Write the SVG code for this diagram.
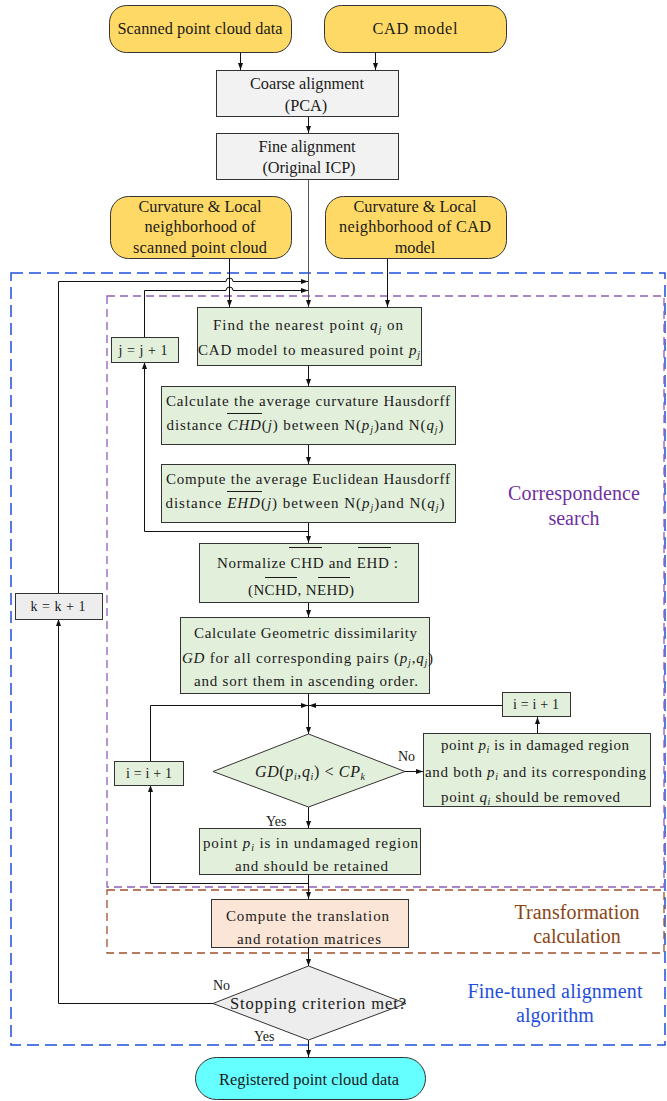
<svg xmlns="http://www.w3.org/2000/svg" width="667" height="1101" viewBox="0 0 667 1101">
<style>
text{font-family:"Liberation Serif","Times New Roman",serif;fill:#1a1a1a;}
.t{font-size:15px;text-anchor:middle;}
.h{font-size:16.3px;text-anchor:middle;}
.s{font-size:14px;text-anchor:middle;}
.lab{font-size:14px;}
.big{font-size:20px;text-anchor:middle;}
.yel{fill:#ffd966;stroke:#333;stroke-width:1;}
.gry{fill:#f2f2f2;stroke:#333;stroke-width:1;}
.grn{fill:#e2efda;stroke:#333;stroke-width:1;}
.pch{fill:#fbe5d6;stroke:#333;stroke-width:1;}
.cyn{fill:#66ffff;stroke:#333;stroke-width:1;}
.dg{fill:#ededed;stroke:#333;stroke-width:1;}
.c{fill:none;stroke:#111;stroke-width:1;}
.ol{stroke:#1a1a1a;stroke-width:1;}
.i{font-style:italic;}
.sub{font-size:10px;font-style:italic;}
</style>
<defs>
<marker id="ar" markerUnits="userSpaceOnUse" markerWidth="8" markerHeight="6" refX="7" refY="3" orient="auto">
<path d="M0,0.5 L7,3 L0,5.5 z" fill="#111"/>
</marker>
</defs>

<!-- dashed region frames -->
<g id="frames">
<rect x="11" y="273" width="654" height="772" fill="none" stroke="#1f4fdc" stroke-width="1.5" stroke-dasharray="12 6"/>
<rect x="107" y="296" width="557" height="591" fill="none" stroke="#8e5fb8" stroke-width="1.3" stroke-dasharray="8 5"/>
<rect x="107" y="890" width="557" height="63" fill="none" stroke="#a0522d" stroke-width="1.3" stroke-dasharray="8 5"/>
<text class="big" x="574" y="500" textLength="132" style="fill:#7030a0">Correspondence</text>
<text class="big" x="574" y="525" style="fill:#7030a0">search</text>
<text class="big" x="577" y="919" textLength="125" style="fill:#8b4513">Transformation</text>
<text class="big" x="577" y="943" style="fill:#8b4513">calculation</text>
<text class="big" x="555" y="998" textLength="175" style="fill:#1f4fdc">Fine-tuned alignment</text>
<text class="big" x="555" y="1022" style="fill:#1f4fdc">algorithm</text>
</g>

<!-- connectors -->
<g id="connectors">
<path class="c" d="M240.5,52 V70" marker-end="url(#ar)"/>
<path class="c" d="M375.5,52 V70" marker-end="url(#ar)"/>
<path class="c" d="M308.5,117 V133" marker-end="url(#ar)"/>
<path class="c" d="M308.5,179 V307" marker-end="url(#ar)" style="stroke:#555"/>
<path class="c" d="M229.5,258 V307" marker-end="url(#ar)"/>
<path class="c" d="M387.5,258 V307" marker-end="url(#ar)"/>
<!-- k loop -->
<path class="c" d="M213,1003.5 H58.5 V619" marker-end="url(#ar)"/>
<path class="c" d="M58.5,593 V281.5 H226 A3.5,3.5 0 0 1 233,281.5 H308" marker-end="url(#ar)"/>
<!-- j loop -->
<path class="c" d="M308.5,531.5 H144.5 V362" marker-end="url(#ar)"/>
<path class="c" d="M144.5,337 V290.5 H226 A3.5,3.5 0 0 1 233,290.5 H308" marker-end="url(#ar)"/>
<path class="c" d="M308.5,365 V386" marker-end="url(#ar)"/>
<path class="c" d="M308.5,444 V464" marker-end="url(#ar)"/>
<path class="c" d="M308.5,522 V543" marker-end="url(#ar)"/>
<path class="c" d="M308.5,602 V617" marker-end="url(#ar)"/>
<path class="c" d="M308.5,693 V734" marker-end="url(#ar)"/>
<!-- i loops -->
<path class="c" d="M150.5,761 V705.5 H308" marker-end="url(#ar)"/>
<path class="c" d="M502,705.5 H309" marker-end="url(#ar)"/>
<path class="c" d="M537.5,733 V717" marker-end="url(#ar)"/>
<path class="c" d="M405,771.5 H423" marker-end="url(#ar)"/>
<path class="c" d="M308.5,807 V828" marker-end="url(#ar)"/>
<path class="c" d="M308.5,874 V899" marker-end="url(#ar)"/>
<path class="c" d="M308.5,883.5 H150.5 V785" marker-end="url(#ar)"/>
<path class="c" d="M308.5,947 V966" marker-end="url(#ar)"/>
<path class="c" d="M308.5,1040 V1057" marker-end="url(#ar)"/>
<text class="lab" x="398" y="761">No</text>
<text class="lab" x="266" y="826">Yes</text>
<text class="lab" x="213" y="990">No</text>
<text class="lab" x="254" y="1041">Yes</text>
</g>

<g id="scanned">
<rect class="yel" x="109.5" y="5.5" width="182" height="47" rx="17"/>
<text class="h" x="200" y="34" textLength="165">Scanned point cloud data</text>
</g>
<g id="cad">
<rect class="yel" x="324.5" y="5.5" width="182" height="47" rx="17"/>
<text class="h" x="415" y="34" textLength="85">CAD  model</text>
</g>
<g id="coarse">
<rect class="gry" x="216.5" y="70.5" width="182" height="46"/>
<text class="h" x="307" y="89" textLength="114">Coarse alignment</text>
<text class="h" x="306" y="111">(PCA)</text>
</g>
<g id="fine">
<rect class="gry" x="216.5" y="133.5" width="182" height="46"/>
<text class="h" x="307" y="152" textLength="97">Fine alignment</text>
<text class="h" x="309" y="173" textLength="93">(Original ICP)</text>
</g>
<g id="curv-scan">
<rect class="yel" x="110.5" y="196.5" width="181" height="62" rx="18"/>
<text class="h" x="200" y="212" textLength="123">Curvature &amp; Local</text>
<text class="h" x="200" y="232" textLength="111">neighborhood of</text>
<text class="h" x="200" y="253" textLength="134">scanned point cloud</text>
</g>
<g id="curv-cad">
<rect class="yel" x="325.5" y="196.5" width="181" height="62" rx="18"/>
<text class="h" x="415" y="212" textLength="123">Curvature &amp; Local</text>
<text class="h" x="415" y="232" textLength="152">neighborhood of CAD</text>
<text class="h" x="415" y="253">model</text>
</g>
<g id="jbox">
<rect class="grn" x="111.5" y="337.5" width="67" height="25"/>
<text class="s" x="143" y="355" textLength="49">j = j + 1</text>
</g>
<g id="find">
<rect class="grn" x="197.5" y="307.5" width="224" height="58"/>
<text class="t" x="308" y="330" textLength="190">Find the nearest point <tspan class="i">q</tspan><tspan class="sub" dy="3">j</tspan><tspan dy="-3"> on</tspan></text>
<text class="t" x="309" y="355" textLength="222">CAD model to measured point <tspan class="i">p</tspan><tspan class="sub" dy="3">j</tspan></text>
</g>
<g id="chd">
<rect class="grn" x="161.5" y="386.5" width="294" height="58"/>
<text class="t" x="308" y="406" textLength="284">Calculate the average curvature Hausdorff</text>
<text class="t" x="305" y="430" textLength="277">distance <tspan class="i">CHD</tspan>(<tspan class="i">j</tspan>) between N(<tspan class="i">p</tspan><tspan class="sub" dy="3">j</tspan><tspan dy="-3">)and N(</tspan><tspan class="i">q</tspan><tspan class="sub" dy="3">j</tspan><tspan dy="-3">)</tspan></text>
<line class="ol" x1="227" y1="413.5" x2="262" y2="413.5"/>
</g>
<g id="ehd">
<rect class="grn" x="161.5" y="464.5" width="294" height="58"/>
<text class="t" x="308" y="484" textLength="284">Compute the average Euclidean Hausdorff</text>
<text class="t" x="305" y="508" textLength="279">distance <tspan class="i">EHD</tspan>(<tspan class="i">j</tspan>) between N(<tspan class="i">p</tspan><tspan class="sub" dy="3">j</tspan><tspan dy="-3">)and N(</tspan><tspan class="i">q</tspan><tspan class="sub" dy="3">j</tspan><tspan dy="-3">)</tspan></text>
<line class="ol" x1="227" y1="491.5" x2="262" y2="491.5"/>
</g>
<g id="kbox">
<rect class="dg" x="15.5" y="593.5" width="87" height="26"/>
<text class="s" x="58" y="611" textLength="55">k = k + 1</text>
</g>
<g id="normalize">
<rect class="grn" x="199.5" y="543.5" width="219" height="59"/>
<text class="t" x="307.5" y="568" textLength="181">Normalize CHD and EHD :</text>
<text class="t" x="301" y="595" textLength="106">(NCHD, NEHD)</text>
<line class="ol" x1="289" y1="547.5" x2="322" y2="547.5"/>
<line class="ol" x1="358" y1="547.5" x2="391" y2="547.5"/>
<line class="ol" x1="265" y1="577.5" x2="297" y2="577.5"/>
<line class="ol" x1="318" y1="577.5" x2="350" y2="577.5"/>
</g>
<g id="gd">
<rect class="grn" x="180.5" y="617.5" width="249" height="76"/>
<text class="t" x="305.5" y="638" textLength="223">Calculate Geometric dissimilarity</text>
<text class="t" x="307.5" y="663" textLength="251"><tspan class="i">GD</tspan> for all corresponding pairs (<tspan class="i">p</tspan><tspan class="sub" dy="3">j</tspan><tspan dy="-3">,</tspan><tspan class="i">q</tspan><tspan class="sub" dy="3">j</tspan><tspan dy="-3">)</tspan></text>
<text class="t" x="306" y="686" textLength="224">and sort them in ascending order.</text>
</g>
<g id="ibox-right">
<rect class="grn" x="502.5" y="692.5" width="68" height="24"/>
<text class="s" x="536" y="709" textLength="46">i = i + 1</text>
</g>
<g id="ibox-left">
<rect class="grn" x="114.5" y="761.5" width="69" height="24"/>
<text class="s" x="149" y="778" textLength="46">i = i + 1</text>
</g>
<g id="decision">
<polygon class="grn" points="308.5,734 405,771.5 308.5,807 213,771.5"/>
<text x="310" y="777" textLength="110" style="font-size:16px;text-anchor:middle"><tspan class="i">GD</tspan>(<tspan class="i">p</tspan><tspan class="sub" dy="3">i</tspan><tspan dy="-3">,</tspan><tspan class="i">q</tspan><tspan class="sub" dy="3">i</tspan><tspan dy="-3">) &lt; </tspan><tspan class="i">CP</tspan><tspan class="sub" dy="3">k</tspan></text>
</g>
<g id="damaged">
<rect class="grn" x="423.5" y="733.5" width="227" height="73"/>
<text class="t" x="535" y="750" textLength="188">point <tspan class="i">p</tspan><tspan class="sub" dy="3">i</tspan><tspan dy="-3"> is in damaged region</tspan></text>
<text class="t" x="535.5" y="777" textLength="221">and both <tspan class="i">p</tspan><tspan class="sub" dy="3">i</tspan><tspan dy="-3"> and its corresponding</tspan></text>
<text class="t" x="530.5" y="802" textLength="179">point <tspan class="i">q</tspan><tspan class="sub" dy="3">i</tspan><tspan dy="-3">  should be removed</tspan></text>
</g>
<g id="retained">
<rect class="grn" x="199.5" y="828.5" width="221" height="46"/>
<text class="t" x="310.5" y="848" textLength="215">point <tspan class="i">p</tspan><tspan class="sub" dy="3">i</tspan><tspan dy="-3"> is in undamaged region</tspan></text>
<text class="t" x="311.5" y="871" textLength="153">and should be retained</text>
</g>
<g id="compute">
<rect class="pch" x="211.5" y="899.5" width="197" height="48"/>
<text class="t" x="307.5" y="921" textLength="163">Compute the translation</text>
<text class="t" x="309" y="944" textLength="144">and rotation matrices</text>
</g>
<g id="stopping">
<polygon class="dg" points="308.5,966 406,1003.5 308.5,1040 213,1003.5"/>
<text x="318" y="1009" textLength="176" style="font-size:16.5px;text-anchor:middle">Stopping criterion met?</text>
</g>
<g id="registered">
<rect class="cyn" x="195.5" y="1057.5" width="230" height="42" rx="21"/>
<text class="h" x="309" y="1085" textLength="180">Registered point cloud data</text>
</g>
</svg>
